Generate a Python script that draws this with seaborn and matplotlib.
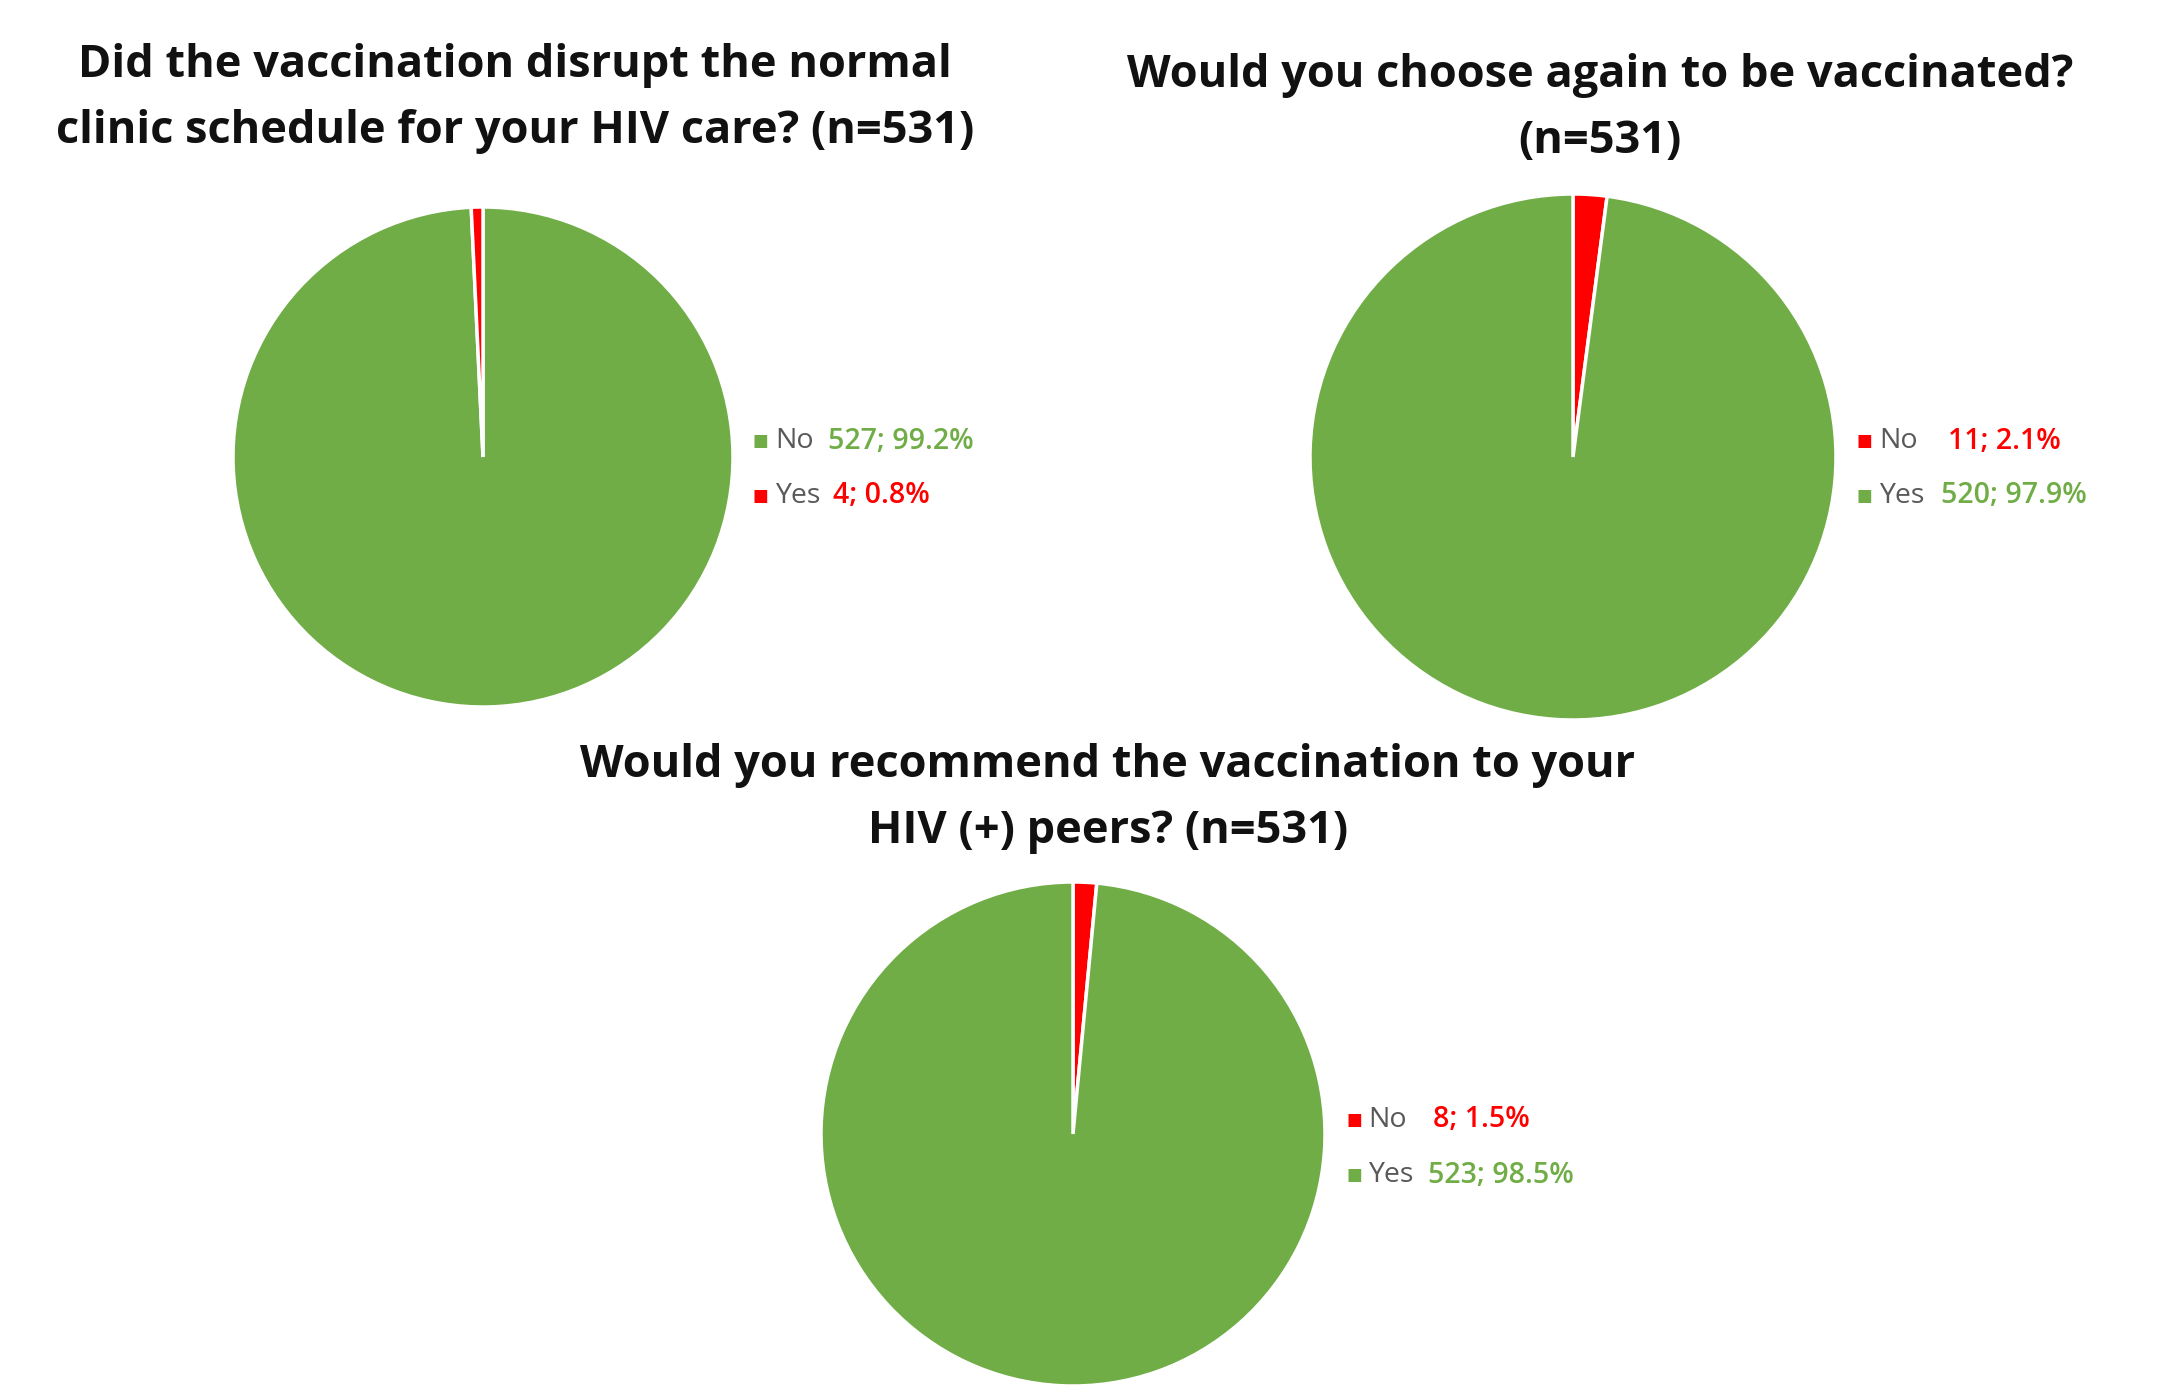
import matplotlib
matplotlib.use("Agg")
import matplotlib.pyplot as plt
import seaborn as sns

# data
q1_labels = ["No", "Yes"]
q1_counts = [527, 4]
q1_pct = ["99.2%", "0.8%"]

q2_labels = ["No", "Yes"]
q2_counts = [11, 520]
q2_pct = ["2.1%", "97.9%"]

q3_labels = ["No", "Yes"]
q3_counts = [8, 523]
q3_pct = ["1.5%", "98.5%"]

titles = [
    ["Did the vaccination disrupt the normal", "clinic schedule for your HIV care? (n=531)"],
    ["Would you choose again to be vaccinated?", "(n=531)"],
    ["Would you recommend the vaccination to your", "HIV (+) peers? (n=531)"],
]

GREEN = "#70AD47"
RED = "#FF0000"
q1_colors = [GREEN, RED]
q2_colors = [RED, GREEN]
q3_colors = [RED, GREEN]

sns.set_theme(style="white")
plt.rcParams['font.family'] = ['Open Sans', 'DejaVu Sans']

W, H = 2163, 1385
fig = plt.figure(figsize=(W / 100, H / 100), dpi=100)
fig.patch.set_facecolor("white")


def pie_at(cx, cy, r, counts, colors):
    pad = 1.04
    ax = fig.add_axes([(cx - r * pad) / W, 1 - (cy + r * pad) / H, 2 * r * pad / W, 2 * r * pad / H])
    ax.pie(counts, colors=colors, startangle=90, counterclock=False,
           wedgeprops=dict(edgecolor="white", linewidth=2.5))
    ax.set_xlim(-pad, pad)
    ax.set_ylim(-pad, pad)
    ax.set_aspect("equal")
    ax.axis("off")
    return ax


def title_at(cx, ys, lines):
    for y, line in zip(ys, lines):
        fig.text(cx / W, 1 - y / H, line, ha="center", va="center",
                 fontsize=32.5, fontweight="bold", color="#111111")


def legend_at(x, ys, labels, counts, pcts, colors, val_xs):
    for y, lab, c, p, col, vx in zip(ys, labels, counts, pcts, colors, val_xs):
        fig.text(x / W, 1 - y / H, "■", ha="left", va="center",
                 fontsize=12, color=col, family="DejaVu Sans")
        fig.text((x + 22) / W, 1 - y / H, lab, ha="left", va="center",
                 fontsize=20.5, color="#595959")
        fig.text(vx / W, 1 - y / H, f"{c}; {p}", ha="left", va="center",
                 fontsize=20.5, fontweight="semibold", color=col)


pie_at(483, 457, 250, q1_counts, q1_colors)
pie_at(1573, 457, 263, q2_counts, q2_colors)
pie_at(1073, 1134, 252, q3_counts, q3_colors)

title_at(515, [66, 131], titles[0])
title_at(1600, [76, 142], titles[1])
title_at(1108, [765, 832], titles[2])

legend_at(753, [441, 496], q1_labels, q1_counts, q1_pct, q1_colors, [828, 833])
legend_at(1857, [441, 496], q2_labels, q2_counts, q2_pct, q2_colors, [1948, 1941])
legend_at(1346, [1120, 1175], q3_labels, q3_counts, q3_pct, q3_colors, [1433, 1428])

fig.savefig("out.png", dpi=100, facecolor="white")
